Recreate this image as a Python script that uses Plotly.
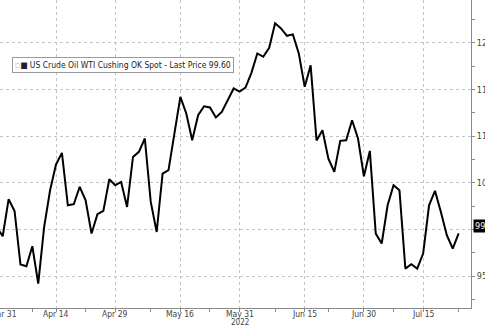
import plotly.graph_objects as go

dates = [
    "2022-03-31", "2022-04-01", "2022-04-04", "2022-04-05", "2022-04-06", "2022-04-07", "2022-04-08",
    "2022-04-11", "2022-04-12", "2022-04-13", "2022-04-14",
    "2022-04-18", "2022-04-19", "2022-04-20", "2022-04-21", "2022-04-22",
    "2022-04-25", "2022-04-26", "2022-04-27", "2022-04-28", "2022-04-29",
    "2022-05-02", "2022-05-03", "2022-05-04", "2022-05-05", "2022-05-06",
    "2022-05-09", "2022-05-10", "2022-05-11", "2022-05-12", "2022-05-13",
    "2022-05-16", "2022-05-17", "2022-05-18", "2022-05-19", "2022-05-20",
    "2022-05-23", "2022-05-24", "2022-05-25", "2022-05-26", "2022-05-27",
    "2022-05-31", "2022-06-01", "2022-06-02", "2022-06-03",
    "2022-06-06", "2022-06-07", "2022-06-08", "2022-06-09", "2022-06-10",
    "2022-06-13", "2022-06-14", "2022-06-15", "2022-06-16", "2022-06-17",
    "2022-06-21", "2022-06-22", "2022-06-23", "2022-06-24",
    "2022-06-27", "2022-06-28", "2022-06-29", "2022-06-30", "2022-07-01",
    "2022-07-05", "2022-07-06", "2022-07-07", "2022-07-08",
    "2022-07-11", "2022-07-12", "2022-07-13", "2022-07-14", "2022-07-15",
    "2022-07-18", "2022-07-19", "2022-07-20", "2022-07-21", "2022-07-22",
    "2022-07-25",
]

prices = [
    100.25, 99.28, 103.25, 101.99, 96.25, 96.07, 98.21,
    94.21, 100.28, 104.21, 106.97,
    108.21, 102.60, 102.71, 104.57, 103.14,
    99.57, 101.64, 101.99, 105.39, 104.75,
    105.10, 102.42, 107.78, 108.32, 109.75,
    102.96, 99.74, 106.00, 106.36, 110.30,
    114.21, 112.43, 109.57, 112.25, 113.20,
    113.08, 112.00, 112.60, 113.86, 115.11,
    114.77, 115.20, 116.78, 118.86,
    118.50, 119.46, 122.08, 121.54, 120.75,
    120.90, 118.86, 115.28, 117.58, 109.54,
    110.64, 107.60, 106.17, 109.50,
    109.55, 111.71, 109.75, 105.71, 108.42,
    99.57, 98.50, 102.60, 104.75,
    104.21, 95.82, 96.28, 95.82, 97.43,
    102.60, 104.14, 101.89, 99.39, 97.96,
    99.60,
]

holidays = ["2022-04-15", "2022-05-30", "2022-06-20", "2022-07-04"]

x_tickvals = ["2022-03-31", "2022-04-14", "2022-04-29", "2022-05-16",
              "2022-05-31", "2022-06-15", "2022-06-30", "2022-07-15"]
x_ticktext = ["Mar 31", "Apr 14", "Apr 29", "May 16",
              "May 31", "Jun 15", "Jun 30", "Jul 15"]
year_label = ("2022-05-31", "2022")
x_minor = ["2022-04-08", "2022-04-22", "2022-05-09", "2022-05-23",
           "2022-06-08", "2022-06-22", "2022-07-08", "2022-07-25"]

y_tickvals = [95, 100, 105, 110, 115, 120]
y_ticktext = ["95", "", "105", "110", "115", "120"]
y_minor = [92.5, 97.5, 102.5, 107.5, 112.5, 117.5, 122.5]

series_name = "US Crude Oil WTI Cushing OK Spot - Last Price"

FONT = "Liberation Sans Narrow, DejaVu Sans Condensed, Arial Narrow, sans-serif"
GRID = "#c4c4c4"
AXIS = "#8a8a8a"
TXT = "#444"

x_start = "2022-03-31 13:00"
x_end = "2022-07-27 02:00"

fig = go.Figure()
fig.add_trace(go.Scatter(
    x=dates, y=prices, mode="lines",
    line=dict(color="black", width=2),
    name=series_name, showlegend=False, cliponaxis=True,
))

fig.update_layout(
    template="none",
    width=485, height=325,
    margin=dict(l=0, r=14, t=0, b=17),
    paper_bgcolor="white", plot_bgcolor="white",
    font=dict(family=FONT, size=9, color=TXT),
    showlegend=False,
    xaxis=dict(
        type="date",
        range=[x_start, x_end],
        rangebreaks=[dict(bounds=["sat", "mon"]), dict(values=holidays)],
        tickmode="array", tickvals=x_tickvals, showticklabels=False,
        ticks="outside", ticklen=3, tickcolor=AXIS,
        showgrid=True, gridcolor=GRID, griddash="dot", gridwidth=1,
        showline=True, linecolor=AXIS, linewidth=1,
        zeroline=False, automargin=False,
        minor=dict(tickmode="array", tickvals=x_minor, ticks="outside",
                   ticklen=3, tickcolor=AXIS, showgrid=False),
    ),
    yaxis=dict(
        side="right",
        range=[91.6, 124.58],
        tickmode="array", tickvals=y_tickvals, ticktext=y_ticktext,
        ticks="outside", ticklen=3, tickcolor=AXIS,
        showgrid=True, gridcolor=GRID, griddash="dot", gridwidth=1,
        showline=True, linecolor=AXIS, linewidth=1,
        zeroline=False, automargin=False,
        tickfont=dict(family=FONT, size=9, color=TXT),
        minor=dict(tickmode="array", tickvals=y_minor, ticks="outside",
                   ticklen=3, tickcolor=AXIS, showgrid=False),
    ),
)

XFONT = dict(family=FONT, size=8.5, color=TXT)

# x tick labels drawn just under the axis (tight, as in the reference)
for tv, tt in zip(x_tickvals, x_ticktext):
    if tv <= x_start[:10]:
        # first label sits at the left edge, partially outside the plot
        fig.add_annotation(
            xref="paper", yref="paper", x=0, y=0, xanchor="center", yanchor="top",
            xshift=3, yshift=0, text=tt, showarrow=False, borderpad=0,
            font=XFONT, align="center",
        )
    else:
        fig.add_annotation(
            xref="x", yref="paper", x=tv, y=0, xanchor="center", yanchor="top",
            yshift=0, text=tt, showarrow=False, borderpad=0,
            font=XFONT, align="center",
        )

fig.add_annotation(
    xref="x", yref="paper", x=year_label[0], y=0, xanchor="center", yanchor="top",
    yshift=-9, text=year_label[1], showarrow=False, borderpad=0,
    font=dict(family=FONT, size=8, color=TXT), align="center",
)

last_price = prices[-1]

fig.add_annotation(
    xref="paper", yref="paper", x=0.026, y=0.815,
    xanchor="left", yanchor="top",
    text="<span style='color:#bbb'>▫</span>■ " + series_name + f" {last_price:.2f}",
    showarrow=False, align="left",
    font=dict(family=FONT, size=8.5, color="#222"),
    bgcolor="white", bordercolor="#9a9a9a", borderwidth=1, borderpad=2,
)

fig.add_annotation(
    xref="paper", yref="y", x=1, y=last_price,
    xanchor="left", yanchor="middle", xshift=2, yshift=7,
    text=f"{last_price:.2f}", showarrow=False,
    font=dict(family=FONT, size=9, color="white"),
    bgcolor="black", borderpad=1,
)

fig.write_html("out.html")
